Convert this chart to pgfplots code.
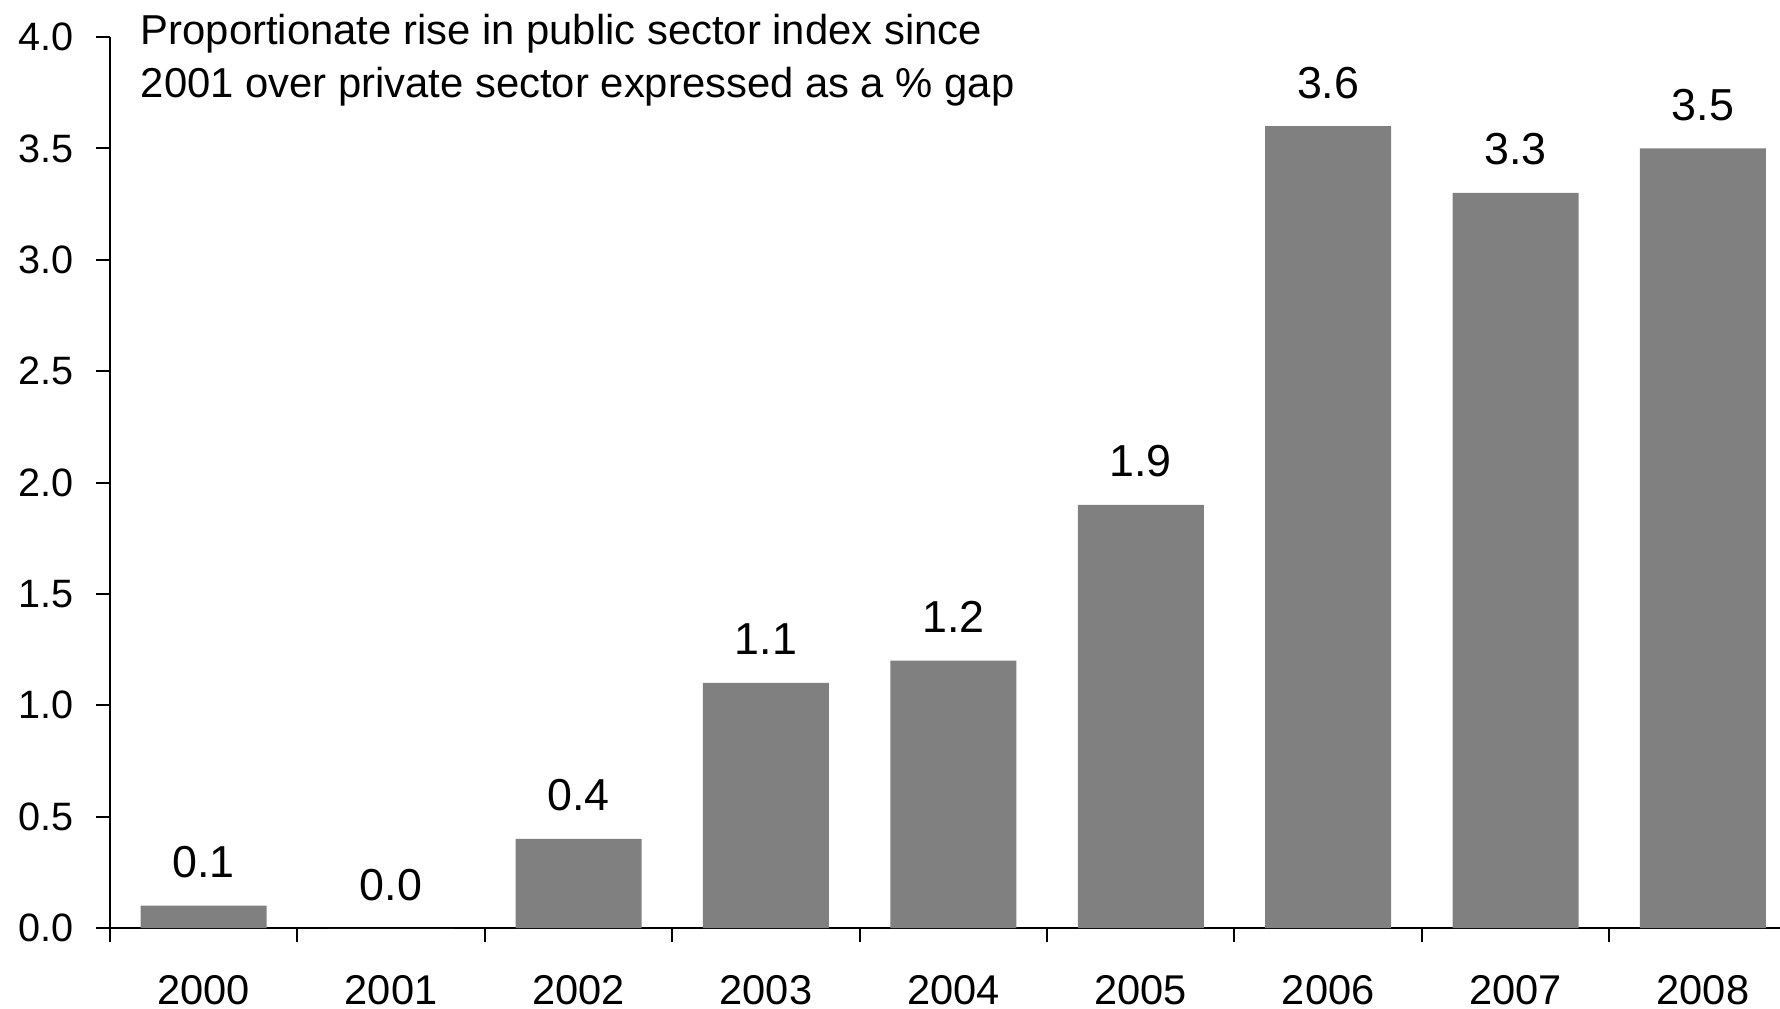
\documentclass[border=0pt]{standalone}
\usepackage{pgfplots}
\pgfplotsset{compat=1.18}
\usepackage{fontspec}
\setmainfont{Liberation Sans}
\definecolor{bargray}{RGB}{128,128,128}
\begin{document}
\begin{tikzpicture}
\path[use as bounding box] (-27.5pt,-20pt) rectangle (417.5pt,232pt);
\begin{axis}[
  at={(0,0)}, anchor=south west,
  scale only axis,
  width=417.5pt, height=222.75pt,
  xmin=-0.5, xmax=8.411,
  ymin=0, ymax=4,
  axis lines=left,
  axis line style={-, line width=0.5pt, black},
  tick align=outside,
  major tick length=3.5pt,
  tick style={line width=0.5pt, black},
  xtick={-0.5,0.5,1.5,2.5,3.5,4.5,5.5,6.5,7.5},
  xticklabels={,,,,,,,,},
  extra x ticks={0,1,2,3,4,5,6,7,8},
  extra x tick labels={2000,2001,2002,2003,2004,2005,2006,2007,2008},
  extra x tick style={major tick length=0pt,
     xticklabel style={font=\fontsize{10.4}{12}\selectfont, anchor=north, inner sep=0pt, yshift=-11.7pt}},
  ytick={0,0.5,1,1.5,2,2.5,3,3.5,4},
  yticklabel style={font=\fontsize{9.9}{11}\selectfont, anchor=east, inner sep=0pt, xshift=-5.5pt,
     /pgf/number format/.cd, fixed, fixed zerofill, precision=1, assume math mode=true},
  /pgf/number format/assume math mode=true,
  ybar, bar width=31.5pt, bar shift=0pt,
  nodes near coords={\pgfmathprintnumber[fixed,fixed zerofill,precision=1]{\pgfplotspointmeta}},
  every node near coord/.append style={font=\fontsize{11.2}{13}\selectfont, anchor=base, inner sep=0pt, yshift=7pt},
  clip=false,
]
\addplot[fill=bargray, draw=none] coordinates {
(0,0.1) (1,0.0) (2,0.4) (3,1.1) (4,1.2) (5,1.9) (6,3.6) (7,3.3) (8,3.5)};
\end{axis}
\node[anchor=base west, inner sep=0pt, align=left, font=\fontsize{10.45}{13.3}\selectfont] at (7.5pt,207.5pt)
  {Proportionate rise in public sector index since\\2001 over private sector expressed as a \% gap};
\end{tikzpicture}
\end{document}
